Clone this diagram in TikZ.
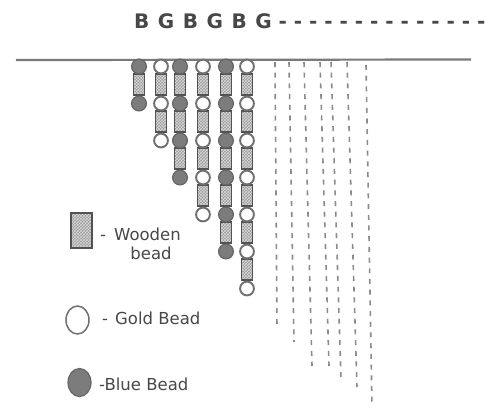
\documentclass[tikz,border=0pt]{standalone}
\usepackage{fontspec}
\setmainfont{DejaVu Sans}
\usetikzlibrary{patterns,shapes.geometric}
\definecolor{ink}{HTML}{474747}
\definecolor{goldline}{HTML}{707070}
\definecolor{blueline}{HTML}{666666}
\definecolor{bluefill}{HTML}{7C7C7C}
\definecolor{woodline}{HTML}{525252}
\definecolor{woodfill}{HTML}{9C9C9C}
\definecolor{woodhatch}{HTML}{D8D8D8}
\definecolor{dashgray}{HTML}{8A8A8A}
\definecolor{rulegray}{HTML}{7A7A7A}
\begin{document}
\begin{tikzpicture}[x=1pt,y=-1pt,
  bead0/.style={circle, draw=goldline, line width=1.9pt, fill=white, minimum size=13.8pt, inner sep=0pt},
  bead1/.style={circle, draw=blueline, line width=1.2pt, fill=bluefill, minimum size=14.8pt, inner sep=0pt},
  wood/.style={rectangle, draw=woodline, line width=1.7pt, preaction={fill=woodfill}, pattern=crosshatch, pattern color=woodhatch, minimum width=11pt, minimum height=20.5pt, inner sep=0pt},
  stringline/.style={draw=dashgray, line width=1.6pt, dash pattern=on 5pt off 5.7pt},
  legend/.style={font=\fontsize{16.5}{16.5}\selectfont, text=ink, inner sep=0pt}]
\useasboundingbox (0,0) rectangle (486,408);

% title
\node[anchor=base west, font=\fontsize{20}{20}\selectfont\bfseries, text=ink, inner sep=0pt] (title) at (134,28.5) {B\hspace{8.5pt}G\hspace{8.5pt}B\hspace{8.5pt}G\hspace{8.5pt}B\hspace{8.5pt}G - - - - - - - - - - - - - -};

% top rule
\coordinate (hl) at (16,60);
\coordinate (hr) at (471,59.5);
\draw[rulegray, line width=2.2pt] (hl) -- (hr);

% dashed strings
\foreach \tx/\ty/\bx/\by [count=\i] in {275/62/277/329, 289/62/294/342, 304/62/312/366, 320/62/329/366, 331/62/341/379, 347/62/357/387, 366/65/372/407}{
  \coordinate (st\i) at (\tx,\ty);
  \coordinate (sb\i) at (\bx,\by);
  \draw[stringline] (st\i) -- (sb\i);
}

% bead columns
\foreach \x/\n [count=\c] in {139/2,161/3,180/4,203/5,226/6,247/7}{
  \pgfmathtruncatemacro\p{mod(\c,2)}
  \pgfmathtruncatemacro\m{\n-2}
  \foreach \k in {0,...,\m}{
    \node[wood] (w-\c-\k) at (\x,{84.5+37*\k}) {};
  }
  \pgfmathtruncatemacro\mm{\n-1}
  \foreach \k in {0,...,\mm}{
    \node[bead\p] (b-\c-\k) at (\x,{66.5+37*\k}) {};
  }
}

% legend
\node[wood, minimum width=21pt, minimum height=35pt] (lw) at (81.5,230.5) {};
\node[legend, anchor=base west] (lwt) at (100,240) {-\hspace{8pt}Wooden};
\node[legend, anchor=base] (lwt2) at (151,259) {bead};

\node[ellipse, draw=goldline, line width=1.5pt, fill=white, minimum width=23pt, minimum height=28pt, inner sep=0pt] (lg) at (77.5,320) {};
\node[legend, anchor=base west] (lgt) at (102,324) {-\hspace{7pt}Gold Bead};

\node[ellipse, draw=blueline, line width=1.2pt, fill=bluefill, minimum width=23pt, minimum height=28pt, inner sep=0pt] (lb) at (79.5,382.5) {};
\node[legend, anchor=base west] (lbt) at (99,390) {-Blue Bead};
\end{tikzpicture}
\end{document}
